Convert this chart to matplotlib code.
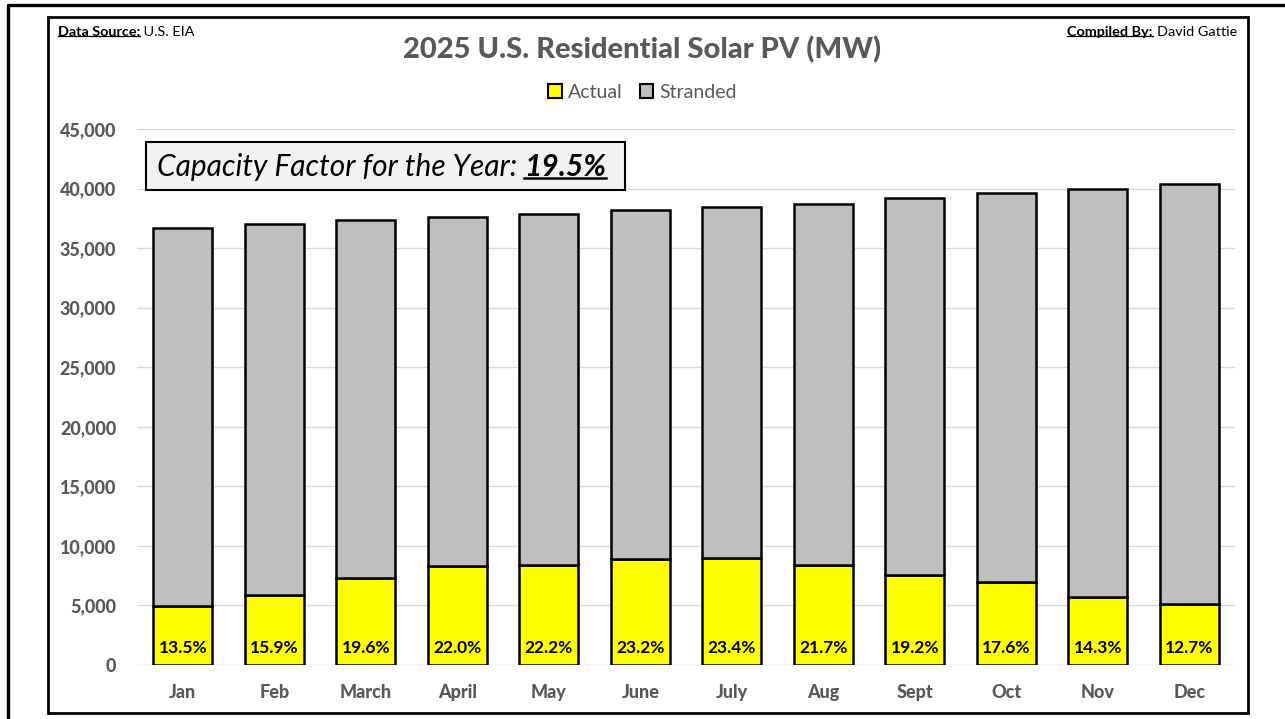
import numpy as np
import matplotlib.pyplot as plt
from matplotlib.patches import Patch, Rectangle
from matplotlib.lines import Line2D

months = ["Jan", "Feb", "March", "April", "May", "June", "July", "Aug", "Sept", "Oct", "Nov", "Dec"]
actual = [4950, 5890, 7320, 8280, 8410, 8860, 9000, 8400, 7530, 6980, 5720, 5130]
stranded = [31740, 31140, 30040, 29340, 29460, 29340, 29460, 30310, 31680, 32650, 34250, 35260]
cf_labels = ["13.5%", "15.9%", "19.6%", "22.0%", "22.2%", "23.2%", "23.4%", "21.7%", "19.2%", "17.6%", "14.3%", "12.7%"]
cf_year = "19.5%"

plt.rcParams['font.family'] = ['Lato', 'DejaVu Sans']
grey_txt = "#595959"
heavy = 900

fig = plt.figure(figsize=(12.85, 7.19), dpi=100)
W, H = 1285, 719
ax = fig.add_axes([137 / W, 1 - 665 / H, 1098 / W, 536 / H])

x = np.arange(len(months))
b1 = ax.bar(x, actual, width=0.645, color="#ffff00", edgecolor="black", linewidth=1.8, label="Actual", zorder=3)
b2 = ax.bar(x, stranded, bottom=actual, width=0.645, color="#bfbfbf", edgecolor="black", linewidth=1.8, label="Stranded", zorder=3)

for i, lab in enumerate(cf_labels):
    ax.text(x[i], 1450, lab, ha="center", va="center", fontsize=12.5, fontweight="bold", color="black", zorder=4)

ax.set_xlim(-0.5, len(months) - 0.5)
ax.set_ylim(0, 45000)
yt = np.arange(0, 45001, 5000)
ax.set_yticks(yt, labels=[f"{v:,}" for v in yt])
ax.set_xticks(x, labels=months)
ax.grid(axis="y", color="#d9d9d9", linewidth=1, zorder=0)
for s in ax.spines.values():
    s.set_visible(False)
ax.tick_params(length=0, labelsize=13, labelcolor=grey_txt)
ax.tick_params(axis="x", pad=14)
ax.tick_params(axis="y", pad=15)

fig.text(0.5, 1 - 50 / H, "2025 U.S. Residential Solar PV (MW)", ha="center", va="center",
         fontsize=21, fontweight=heavy, color=grey_txt)

handles = [Patch(facecolor="#ffff00", edgecolor="black", linewidth=1.5, label="Actual"),
           Patch(facecolor="#bfbfbf", edgecolor="black", linewidth=1.5, label="Stranded")]
fig.legend(handles=handles, loc="center", bbox_to_anchor=(0.5, 1 - 92 / H), ncol=2, frameon=False,
           fontsize=14, handlelength=0.7, handleheight=0.7, handletextpad=0.3, columnspacing=0.9,
           labelcolor=grey_txt)

# capacity factor box
box = Rectangle((146 / W, 1 - 190 / H), 479 / W, 48 / H, transform=fig.transFigure,
                facecolor="#f2f2f2", edgecolor="black", linewidth=1.5, zorder=5)
fig.add_artist(box)
t_cf1 = fig.text(157 / W, 1 - 167 / H, "Capacity Factor for the Year: ", ha="left", va="center",
                 fontsize=21.5, fontstyle="italic", color="black", zorder=6)

# source / credits
t_src1 = fig.text(58 / W, 1 - 32 / H, "Data Source:", ha="left", va="center", fontsize=10.4, fontweight="bold")
t_cmp2 = fig.text(1237 / W, 1 - 32 / H, "David Gattie", ha="right", va="center", fontsize=10.4)

# frames
fig.add_artist(Rectangle((48 / W, 1 - 713 / H), 1200 / W, 696 / H, transform=fig.transFigure,
                         fill=False, edgecolor="black", linewidth=2))
fig.add_artist(Line2D([8 / W, 8 / W, 1], [0, 1 - 5 / H, 1 - 5 / H], transform=fig.transFigure,
                      color="black", linewidth=2.4))

# pieces placed next to the first parts, then underlines
fig.canvas.draw()
for t in ax.get_xticklabels() + ax.get_yticklabels():
    t.set_fontweight(heavy)
r = fig.canvas.get_renderer()
inv = fig.transFigure.inverted()

def ext(t):
    bb = t.get_window_extent(r)
    (x0, y0), (x1, y1) = inv.transform((bb.x0, bb.y0)), inv.transform((bb.x1, bb.y1))
    return x0, y0, x1, y1

xa, _, xb, _ = ext(t_cf1)
t_cf2 = fig.text(xb, 1 - 167 / H, cf_year, ha="left", va="center", fontsize=21.5,
                 fontstyle="italic", fontweight="bold", color="black", zorder=6)
xa, _, xb, _ = ext(t_src1)
t_src2 = fig.text(xb, 1 - 32 / H, " U.S. EIA", ha="left", va="center", fontsize=10.4)
xa, _, xb, _ = ext(t_cmp2)
t_cmp1 = fig.text(xa - 4 / W, 1 - 32 / H, "Compiled By:", ha="right", va="center", fontsize=10.4,
                  fontweight="bold")
fig.canvas.draw()

for t, lw, off in [(t_src1, 0.9, 0.14), (t_cmp1, 0.9, 0.14), (t_cf2, 1.8, 0.1)]:
    x0, y0, x1, y1 = ext(t)
    yu = y0 + (y1 - y0) * off
    fig.add_artist(Line2D([x0, x1], [yu, yu], transform=fig.transFigure, color="black",
                          linewidth=lw, zorder=7))

fig.savefig("out.png", dpi=100)
